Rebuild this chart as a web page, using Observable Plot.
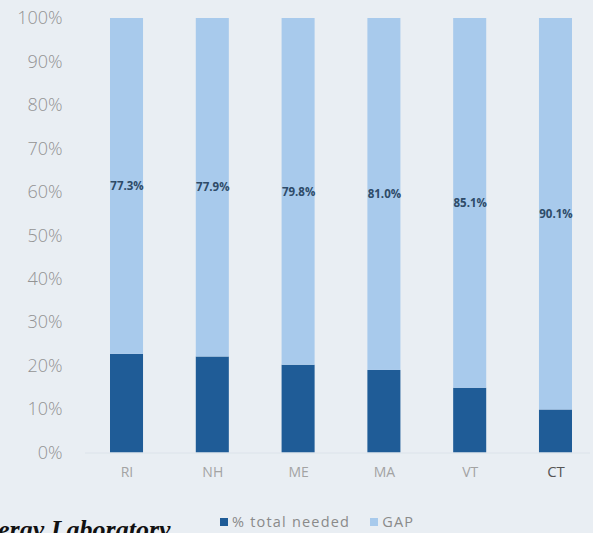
<!DOCTYPE html>
<html>
<head>
<meta charset="utf-8">
<script src="https://cdn.jsdelivr.net/npm/d3@7"></script>
<script src="https://cdn.jsdelivr.net/npm/@observablehq/plot@0.6"></script>
<style>
  html, body { margin: 0; padding: 0; background: #E9EEF3; }
  #wrap { position: relative; width: 593px; height: 533px; overflow: hidden; background: #E9EEF3; }
  #legend { position: absolute; left: 220px; top: 512px; font-family: "Open Sans", sans-serif; font-size: 14.5px; color: #8a8a8a; letter-spacing: 1.2px; white-space: nowrap; }
  #legend span.sw { display: inline-block; width: 8px; height: 8px; margin-right: 4px; vertical-align: 1px; }
  #legend span.item { margin-right: 20px; }
  #source { position: absolute; left: -2px; top: 515px; font-family: "Liberation Serif", serif; font-weight: bold; font-style: italic; font-size: 26px; color: #111; white-space: nowrap; }
</style>
</head>
<body>
<div id="wrap">
  <div id="chart"></div>
  <div id="legend"></div>
  <div id="source">ergy Laboratory</div>
</div>
<script>
const states = ["RI", "NH", "ME", "MA", "VT", "CT"];
const neededPct = [22.7, 22.1, 20.2, 19.0, 14.9, 9.9];
const gapPct = [77.3, 77.9, 79.8, 81.0, 85.1, 90.1];
const seriesNames = ["% total needed", "GAP"];
const seriesColors = ["#1F5C97", "#A8CAEC"];
const yTicks = [0, 10, 20, 30, 40, 50, 60, 70, 80, 90, 100];

const rows = [];
states.forEach((s, i) => rows.push({state: s, series: seriesNames[0], value: neededPct[i]}));
states.forEach((s, i) => rows.push({state: s, series: seriesNames[1], value: gapPct[i]}));

const labels = states.map((s, i) => ({state: s, mid: neededPct[i] + gapPct[i] / 2, gap: gapPct[i]}));

const chart = Plot.plot({
  width: 593,
  height: 490,
  marginTop: 18,
  marginBottom: 37.5,
  marginLeft: 85,
  marginRight: 3,
  style: {background: "#E9EEF3"},
  x: {domain: states, range: [110, 572], paddingInner: 0.615, paddingOuter: 0, round: false, axis: null},
  y: {domain: [0, 100], axis: null},
  color: {domain: seriesNames, range: seriesColors},
  marks: [
    Plot.axisY({ticks: yTicks, tickFormat: d => d + "%", tickSize: 0, tickPadding: 23,
      fontSize: 18, fontWeight: 300, fill: "#939393", fontFamily: "Open Sans", label: null}),
    Plot.barY(rows, {x: "state", y: "value", fill: "series"}),
    Plot.ruleY([0], {stroke: "#DCE3EA", strokeWidth: 1}),
    Plot.text(labels, {x: "state", y: "mid", text: d => d.gap.toFixed(1) + "%",
      fill: "#2E4B68", fontWeight: 700, fontSize: 11.5, fontFamily: "Open Sans"}),
    Plot.text(states, {x: d => d, frameAnchor: "bottom", dy: 24, text: d => d,
      fill: d => d === "CT" ? "#555555" : "#A3A3A3",
      fontSize: d => d === "CT" ? 15 : 14,
      fontFamily: "Open Sans", fontWeight: 400})
  ]
});
document.getElementById("chart").appendChild(chart);

const legend = document.getElementById("legend");
seriesNames.forEach((n, i) => {
  const item = document.createElement("span");
  item.className = "item";
  const sw = document.createElement("span");
  sw.className = "sw";
  sw.style.background = seriesColors[i];
  item.appendChild(sw);
  item.appendChild(document.createTextNode(n));
  legend.appendChild(item);
});
</script>
</body>
</html>
